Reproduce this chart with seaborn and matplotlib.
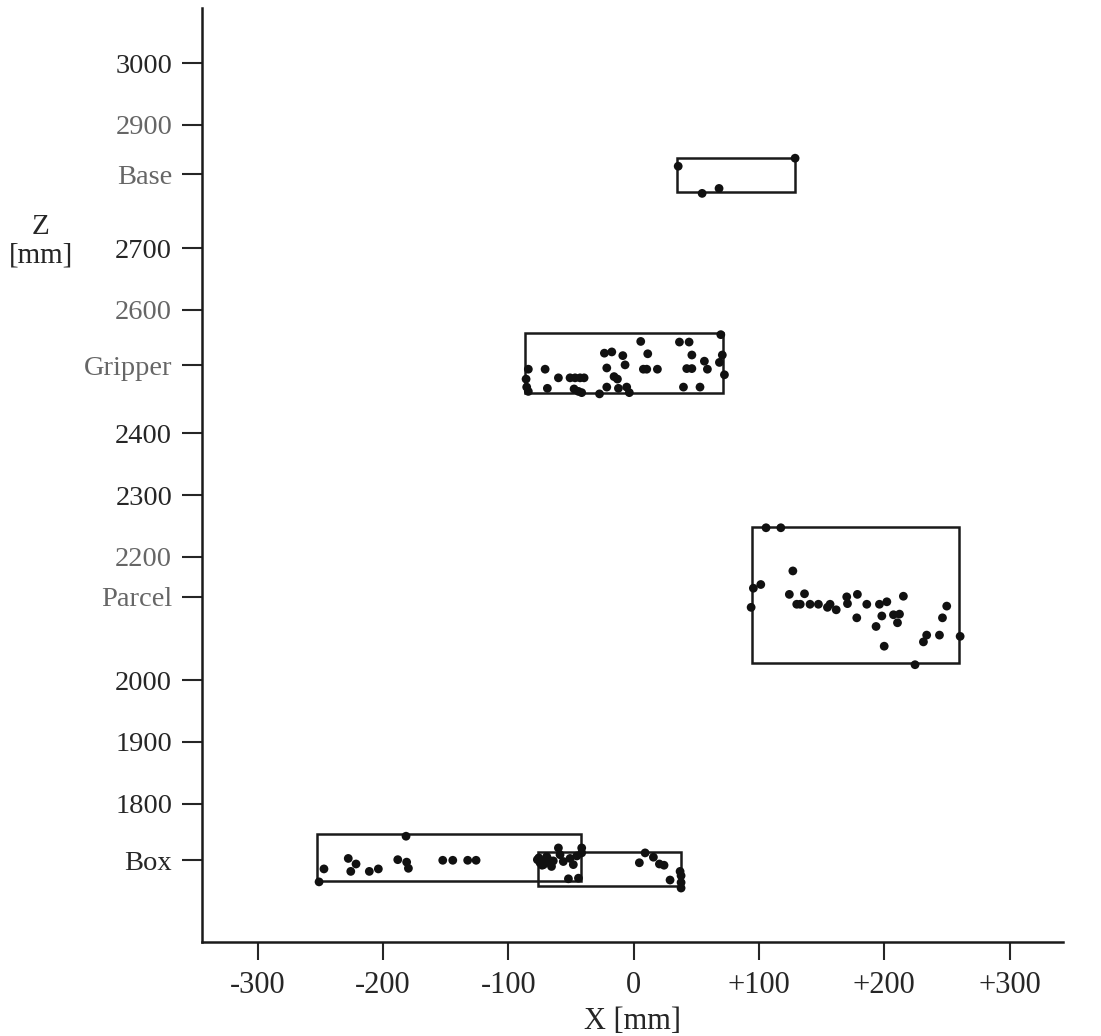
import matplotlib
matplotlib.use("Agg")
import matplotlib.pyplot as plt
from matplotlib.patches import Rectangle
import pandas as pd
import seaborn as sns

# measured points (X, Z in mm) per object
base_x = [35.6, 128.9, 54.7, 68.2]
base_z = [2833, 2846, 2789, 2797]

gripper_x = [69.6, 5.7, 36.6, 44.3, -23.3, -17.4, 11.3, 46.5, -8.6, 70.8, -6.8, 56.5, 68.5,
             58.9, -84.0, -70.6, -21.4, 7.8, 10.5, 19.0, 42.4, 46.5, 72.5, -85.8, -60.0,
             -50.7, -46.7, -42.7, -39.5, -15.6, -12.9, -85.3, -84.0, -68.8, -47.5, -44.0,
             -41.4, -27.2, -21.4, -12.1, -5.5, -3.4, 39.8, 53.0]
gripper_z = [2560, 2549, 2548, 2548, 2530, 2532, 2529, 2527, 2526, 2527, 2511, 2517, 2515,
             2504, 2504, 2504, 2506, 2504, 2504, 2504, 2505, 2505, 2495, 2488, 2490,
             2490, 2490, 2490, 2490, 2492, 2488, 2475, 2468, 2473, 2472, 2468,
             2466, 2464, 2475, 2473, 2475, 2466, 2475, 2475]

parcel_x = [105.7, 117.5, 127.1, 95.6, 101.5, 93.8, 124.3, 136.4, 130.2, 133.0, 140.8, 147.5,
            154.7, 156.8, 161.7, 170.1, 170.7, 178.6, 186.1, 196.2, 202.1, 215.3, 178.1,
            198.1, 207.4, 212.2, 210.6, 193.5, 200.0, 224.6, 231.3, 233.9, 244.1, 246.5,
            249.9, 260.6]
parcel_z = [2247, 2247, 2177, 2149, 2155, 2118, 2139, 2140, 2123, 2123, 2123, 2123,
            2118, 2123, 2114, 2135, 2124, 2139, 2123, 2123, 2127, 2136, 2101,
            2104, 2106, 2107, 2093, 2087, 2055, 2025, 2062, 2073, 2073, 2101,
            2120, 2071]

box_x = [-251.0, -247.1, -227.7, -221.5, -225.7, -210.9, -203.7, -181.6, -188.2, -181.1,
         -179.7, -152.3, -144.3, -132.4, -125.7, -76.8, -74.7, -71.9, -69.3, -70.6, -67.2,
         -64.1, -60.0, -58.7, -56.1, -50.7, -48.1, -52.0, -44.0, -45.3, -41.4, -41.4,
         -75.6, -73.0, -68.0, -65.5, 9.2, 15.8, 4.6, 20.6, 24.3, 29.1, 37.1, 37.9, 37.9, 37.9]
box_z = [1673, 1694, 1711, 1702, 1690, 1690, 1694, 1747, 1709, 1705,
         1695, 1708, 1708, 1708, 1708, 1709, 1704, 1701, 1714, 1706, 1704,
         1707, 1728, 1717, 1706, 1711, 1701, 1678, 1679, 1715, 1728, 1720,
         1712, 1700, 1709, 1698, 1720, 1713, 1704, 1702, 1700, 1676, 1690, 1683, 1672, 1663]

# bounding boxes: x0, x1, z0, z1  (Base, Gripper, Parcel, Box, Box)
rect_x0 = [34.7, -86.6, 94.3, -252.3, -76.5]
rect_x1 = [128.9, 71.5, 260.0, -41.9, 37.9]
rect_z0 = [2792, 2466, 2028, 1674, 1666]
rect_z1 = [2847, 2562, 2249, 1750, 1722]

ytick_pos = [3000, 2900, 2820, 2700, 2600, 2510, 2400, 2300, 2200, 2135, 2000, 1900, 1800, 1708]
ytick_lab = ["3000", "2900", "Base", "2700", "2600", "Gripper", "2400", "2300", "2200",
             "Parcel", "2000", "1900", "1800", "Box"]
gray_labels = ["2900", "Base", "2600", "Gripper", "2200", "Parcel"]
xtick_pos = [-300, -200, -100, 0, 100, 200, 300]
xtick_lab = ["-300", "-200", "-100", "0", "+100", "+200", "+300"]

df = pd.DataFrame({
    "x": base_x + gripper_x + parcel_x + box_x,
    "z": base_z + gripper_z + parcel_z + box_z,
})

sns.set_style("ticks")
plt.rcParams["font.family"] = ["Liberation Serif", "DejaVu Serif"]

fig = plt.figure(figsize=(11.01, 10.36), dpi=100)
ax = fig.add_axes([0.1835, 0.091, 0.782, 0.901])

for x0, x1, z0, z1 in zip(rect_x0, rect_x1, rect_z0, rect_z1):
    ax.add_patch(Rectangle((x0, z0), x1 - x0, z1 - z0, fill=False,
                           edgecolor="#1a1a1a", linewidth=1.8, zorder=2))

sns.scatterplot(data=df, x="x", y="z", color="#111111", s=40, edgecolor="none",
                ax=ax, zorder=3, legend=False)

ax.set_xlim(-344.4, 342.7)
ax.set_ylim(1576, 3089)
sns.despine(ax=ax)
for sp in ["left", "bottom"]:
    ax.spines[sp].set_linewidth(1.8)
    ax.spines[sp].set_color("#1a1a1a")

ax.set_xticks(xtick_pos)
ax.set_xticklabels(xtick_lab, fontsize=22)
ax.set_yticks(ytick_pos)
ax.set_yticklabels(ytick_lab, fontsize=20.5)
for t in ax.get_yticklabels():
    if t.get_text() in gray_labels:
        t.set_color("#666666")
ax.tick_params(axis="x", length=13, width=1.5, pad=8)
ax.tick_params(axis="y", length=14.5, width=1.5, pad=7)

ax.set_xlabel("X [mm]", fontsize=22, labelpad=5)
ax.set_ylabel("")
fig.text(0.037, 0.767, "Z\n[mm]", fontsize=21, ha="center", va="center", linespacing=1.15)

fig.savefig("out.png", dpi=100)
